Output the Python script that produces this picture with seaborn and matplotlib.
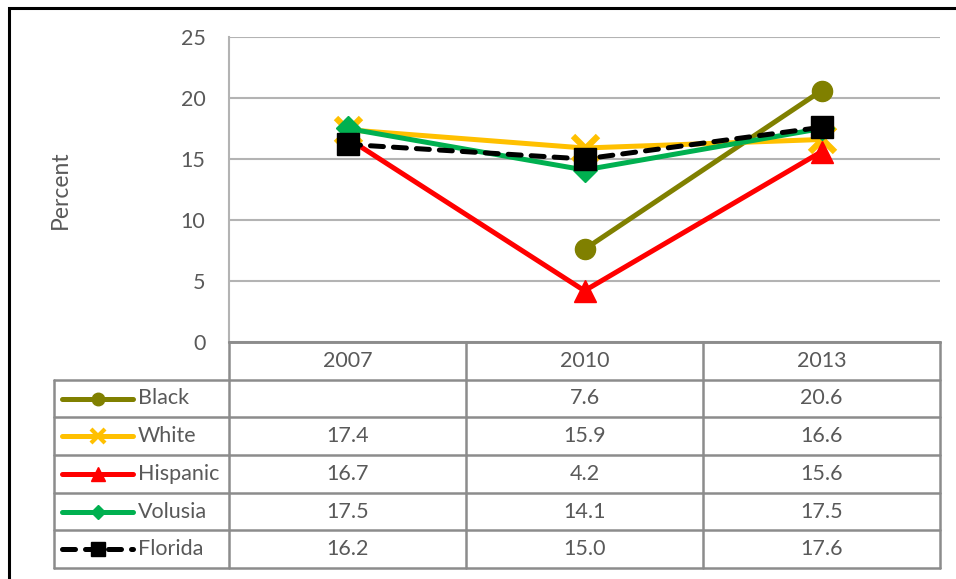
import numpy as np
import pandas as pd
import seaborn as sns
import matplotlib.pyplot as plt
from matplotlib.patches import Rectangle

# # # data # # #
years = ['2007', '2010', '2013']
groups = ['Black', 'White', 'Hispanic', 'Volusia', 'Florida']
black = [np.nan, 7.6, 20.6]
white = [17.4, 15.9, 16.6]
hispanic = [16.7, 4.2, 15.6]
volusia = [17.5, 14.1, 17.5]
florida = [16.2, 15.0, 17.6]

series = {'Black': black, 'White': white, 'Hispanic': hispanic,
          'Volusia': volusia, 'Florida': florida}

df = pd.DataFrame([(g, i, v) for g in groups for i, v in enumerate(series[g])],
                  columns=['Group', 'Year', 'Percent'])

# # # styling per series # # #
colors = {'Black': '#808000', 'White': '#FFC000', 'Hispanic': '#FF0000',
          'Volusia': '#00B050', 'Florida': '#000000'}
markers = {'Black': 'o', 'White': 'x', 'Hispanic': '^', 'Volusia': 'D', 'Florida': 's'}
msizes = {'Black': 14.5, 'White': 18, 'Hispanic': 16, 'Volusia': 12, 'Florida': 15.5}
key_sizes = {'Black': 9, 'White': 10, 'Hispanic': 10, 'Volusia': 7, 'Florida': 10}
lstyles = {'Black': '-', 'White': '-', 'Hispanic': '-', 'Volusia': '-',
           'Florida': (0, (2.6, 2.0))}

sns.set_style('white')
plt.rcParams['font.family'] = ['Lato', 'DejaVu Sans']
txt = '#595959'
grid_c = '#b3b3b3'
tab_c = '#8c8c8c'
fs = 15.5

W, H = 956, 579
fig = plt.figure(figsize=(W / 100, H / 100), dpi=100)

# main plot area
ax = fig.add_axes([229 / W, 1 - 342 / H, (940 - 229) / W, (342 - 37) / H])
for g in groups:
    sub = df[df['Group'] == g].dropna()
    mew = 4.5 if g == 'White' else 1
    sns.lineplot(data=sub, x='Year', y='Percent', ax=ax, color=colors[g],
                 marker=markers[g], markersize=msizes[g], markeredgewidth=mew,
                 markeredgecolor=colors[g], linewidth=3.6, linestyle=lstyles[g],
                 solid_capstyle='round', dash_capstyle='round')

ax.set_xlim(-0.5, 2.5)
ax.set_ylim(0, 25)
ax.set_yticks(range(0, 26, 5))
ax.set_xticks([])
ax.set_xlabel('')
ax.grid(axis='y', color=grid_c, linewidth=1.5)
ax.set_axisbelow(True)
for s in ['top', 'right']:
    ax.spines[s].set_visible(False)
ax.spines['left'].set_color(grid_c)
ax.spines['left'].set_linewidth(1.5)
ax.spines['bottom'].set_color(tab_c)
ax.spines['bottom'].set_linewidth(1.8)
ax.tick_params(axis='y', length=0, pad=17, labelsize=fs, labelcolor=txt)
ax.set_ylabel('Percent', fontsize=16.5, color=txt)
ax.yaxis.set_label_coords(-0.222, 0.5)

# # # data table under the plot # # #
x_left = 2.5 - (940 - 54) / 237
tab = fig.add_axes([54 / W, 1 - 568 / H, (940 - 54) / W, (568 - 342) / H])
tab.set_xlim(x_left, 2.5)
tab.set_ylim(6, 0)
tab.axis('off')

for i, yr in enumerate(years):
    tab.text(i, 0.5, yr, ha='center', va='center', fontsize=fs, color=txt)

for r, g in enumerate(groups, start=1):
    for i, v in enumerate(series[g]):
        if not np.isnan(v):
            tab.text(i, r + 0.5, f'{v:.1f}', ha='center', va='center',
                     fontsize=fs, color=txt)
    # legend key
    tab.plot([x_left + 8 / 237, x_left + 79 / 237], [r + 0.5, r + 0.5],
             color=colors[g], linewidth=3.6, linestyle=lstyles[g],
             solid_capstyle='round', dash_capstyle='round', clip_on=False)
    tab.plot([x_left + 44 / 237], [r + 0.5], color=colors[g], marker=markers[g],
             markersize=key_sizes[g], markeredgewidth=3 if g == 'White' else 1,
             markeredgecolor=colors[g], clip_on=False)
    tab.text(x_left + 84 / 237, r + 0.5, g, ha='left', va='center',
             fontsize=fs, color=txt)

# table grid lines
lw = 1.8
tab.plot([-0.5, 2.5], [0, 0], color=tab_c, lw=lw, clip_on=False)
for r in range(1, 7):
    tab.plot([x_left, 2.5], [r, r], color=tab_c, lw=lw, clip_on=False)
for xv in [-0.5, 0.5, 1.5, 2.5]:
    tab.plot([xv, xv], [0, 6], color=tab_c, lw=lw, clip_on=False)
tab.plot([x_left, x_left], [1, 6], color=tab_c, lw=lw, clip_on=False)

# outer frame of the exported picture (cut at right and bottom)
fig.add_artist(Rectangle((8.5 / W, -0.1), 1.2, 1.1 - 7.5 / H, fill=False,
                         edgecolor='black', linewidth=2.2,
                         transform=fig.transFigure))

fig.savefig('out.png', dpi=100)
